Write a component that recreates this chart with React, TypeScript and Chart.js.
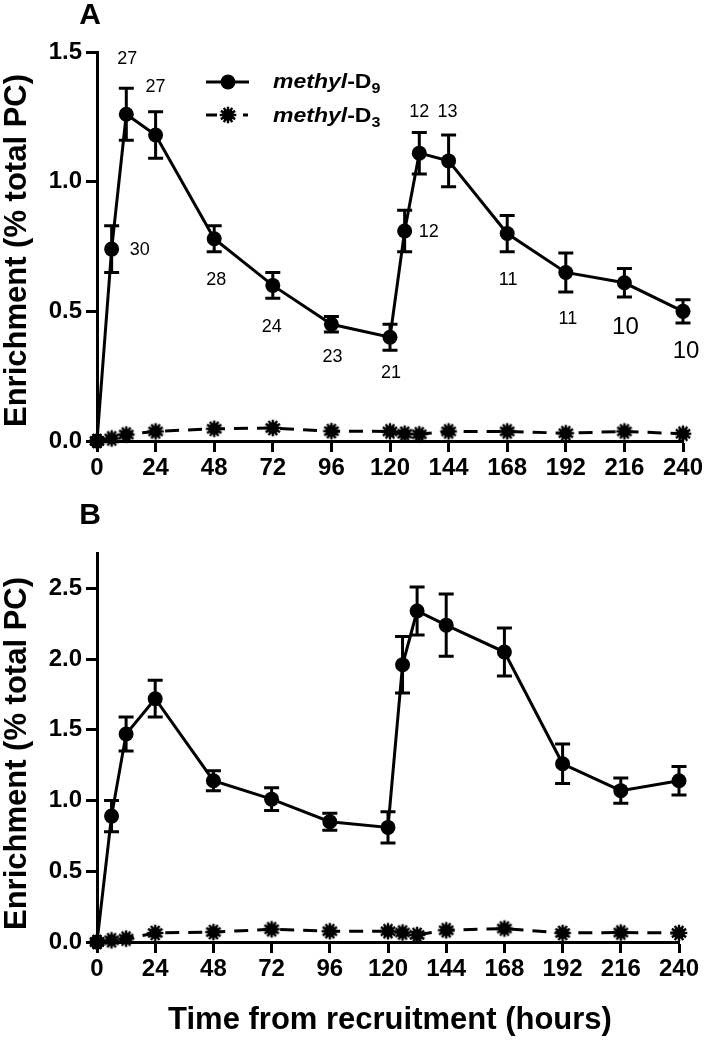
import React, { useEffect, useRef } from 'react';
import { Chart, registerables } from 'chart.js';

Chart.register(...registerables);

// ---------- data ----------
const TIMES = [0, 6, 12, 24, 48, 72, 96, 120, 126, 132, 144, 168, 192, 216, 240];
const X_TICKS = [0, 24, 48, 72, 96, 120, 144, 168, 192, 216, 240];
const A_Y_TICKS = [0, 0.5, 1.0, 1.5];
const B_Y_TICKS = [0, 0.5, 1.0, 1.5, 2.0, 2.5];
const SERIES = ['methyl-D9', 'methyl-D3'];

const A_D9 = [0, 0.74, 1.26, 1.18, 0.78, 0.6, 0.45, 0.4, 0.81, 1.11, 1.08, 0.8, 0.65, 0.61, 0.5];
const A_D9_SEM = [0, 0.09, 0.1, 0.09, 0.05, 0.05, 0.03, 0.05, 0.08, 0.08, 0.1, 0.07, 0.075, 0.055, 0.045];
const A_D3 = [0, 0.01, 0.025, 0.037, 0.047, 0.05, 0.038, 0.037, 0.028, 0.026, 0.037, 0.037, 0.03, 0.037, 0.028];
const A_N = [null, 30, 27, 27, 28, 24, 23, 21, 12, 12, 13, 11, 11, 10, 10];

const B_D9 = [0, 0.89, 1.47, 1.72, 1.14, 1.01, 0.85, 0.81, 1.96, 2.34, 2.24, 2.05, 1.26, 1.07, 1.14];
const B_D9_SEM = [0, 0.11, 0.12, 0.13, 0.07, 0.08, 0.06, 0.11, 0.2, 0.17, 0.22, 0.17, 0.14, 0.09, 0.1];
const B_D3 = [0, 0.012, 0.024, 0.064, 0.07, 0.09, 0.076, 0.076, 0.067, 0.05, 0.083, 0.095, 0.064, 0.067, 0.064];

// ---------- styling ----------
const FONT = '"Liberation Sans", Arial, Helvetica, sans-serif';
const Y_TITLE = 'Enrichment (% total PC)';
const X_TITLE = 'Time from recruitment (hours)';

// label offsets (dx, dy, big) for the n annotations of panel A
const N_OFFSETS: [number, number, boolean][] = [
  [0, 0, false], [28, 1, false], [1, -55, false], [0, -48, false], [2, 41, false],
  [-1, 42, false], [1, 33, false], [1, 36, false], [24, 1, false], [0, -41, false],
  [-1, -49, false], [1, 46, false], [2, 47, false], [1, 45, true], [3, 40, true],
];

function starMarker(): HTMLCanvasElement {
  const c = document.createElement('canvas');
  c.width = 20;
  c.height = 20;
  const g = c.getContext('2d')!;
  g.fillStyle = '#000';
  g.strokeStyle = '#000';
  g.beginPath();
  g.arc(10, 10, 6, 0, Math.PI * 2);
  g.fill();
  g.lineWidth = 2.4;
  for (let k = 0; k < 12; k++) {
    const a = (k * Math.PI) / 6;
    g.beginPath();
    g.moveTo(10, 10);
    g.lineTo(10 + 8.3 * Math.cos(a), 10 + 8.3 * Math.sin(a));
    g.stroke();
  }
  return c;
}

interface PanelSpec {
  letter: string;
  height: number;
  padTop: number;
  padRight: number;
  xHeight: number;
  yMax: number;
  yTicks: number[];
  d9: number[];
  sem: number[];
  d3: number[];
  nLabels?: (number | null)[];
  legend: boolean;
  xTitle: boolean;
  yTitleShift: number;
}

function drawRich(ctx: CanvasRenderingContext2D, x: number, y: number, parts: { text: string; font: string; dy: number }[]) {
  ctx.save();
  ctx.translate(x, y);
  ctx.scale(1.15, 1);
  ctx.textAlign = 'left';
  ctx.textBaseline = 'alphabetic';
  ctx.fillStyle = '#000';
  let cx = 0;
  for (const p of parts) {
    ctx.font = p.font;
    ctx.fillText(p.text, cx, p.dy);
    cx += ctx.measureText(p.text).width;
  }
  ctx.restore();
}

function buildChart(canvas: HTMLCanvasElement, p: PanelSpec) {
  const star = starMarker();
  const decorations = {
    id: 'decorations' + p.letter,
    afterDatasetsDraw(chart: any) {
      const ctx: CanvasRenderingContext2D = chart.ctx;
      const ys = chart.scales.y;
      const meta = chart.getDatasetMeta(0);
      // error bars
      ctx.save();
      ctx.strokeStyle = '#000';
      ctx.lineWidth = 3;
      meta.data.forEach((pt: any, j: number) => {
        const e = p.sem[j];
        if (!e) return;
        const v = p.d9[j];
        const top = ys.getPixelForValue(v + e);
        const bot = ys.getPixelForValue(v - e);
        ctx.beginPath();
        ctx.moveTo(pt.x, top);
        ctx.lineTo(pt.x, bot);
        ctx.moveTo(pt.x - 7.5, top);
        ctx.lineTo(pt.x + 7.5, top);
        ctx.moveTo(pt.x - 7.5, bot);
        ctx.lineTo(pt.x + 7.5, bot);
        ctx.stroke();
      });
      ctx.restore();

      // n annotations
      if (p.nLabels) {
        ctx.save();
        ctx.fillStyle = '#000';
        ctx.textAlign = 'center';
        ctx.textBaseline = 'middle';
        meta.data.forEach((pt: any, j: number) => {
          const n = p.nLabels![j];
          if (n == null) return;
          const [dx, dy, big] = N_OFFSETS[j];
          ctx.font = (big ? '24px ' : '18px ') + FONT;
          ctx.fillText(String(n), pt.x + dx, pt.y + dy);
        });
        ctx.restore();
      }
    },
    afterDraw(chart: any) {
      const ctx: CanvasRenderingContext2D = chart.ctx;
      const area = chart.chartArea;
      ctx.save();
      ctx.fillStyle = '#000';
      // panel letter
      ctx.font = 'bold 30px ' + FONT;
      ctx.textAlign = 'center';
      ctx.textBaseline = 'middle';
      ctx.fillText(p.letter, 90, 16);
      // y title
      ctx.save();
      ctx.translate(17, (area.top + area.bottom) / 2 + p.yTitleShift);
      ctx.rotate(-Math.PI / 2);
      ctx.font = 'bold 31px ' + FONT;
      ctx.textAlign = 'center';
      ctx.textBaseline = 'middle';
      ctx.fillText(Y_TITLE, 0, 0);
      ctx.restore();
      // x title
      if (p.xTitle) {
        ctx.font = 'bold 31px ' + FONT;
        ctx.textAlign = 'center';
        ctx.textBaseline = 'middle';
        ctx.fillText(X_TITLE, 390, 520);
      }
      // legend
      if (p.legend) {
        ctx.strokeStyle = '#000';
        ctx.lineWidth = 3;
        ctx.beginPath();
        ctx.moveTo(206, 82);
        ctx.lineTo(249, 82);
        ctx.stroke();
        ctx.beginPath();
        ctx.arc(228, 82, 7.5, 0, Math.PI * 2);
        ctx.fill();
        ctx.beginPath();
        ctx.moveTo(206, 115);
        ctx.lineTo(217, 115);
        ctx.moveTo(243, 115);
        ctx.lineTo(248, 115);
        ctx.stroke();
        ctx.drawImage(star, 218, 105);
        const sub = (d: string, y: number) =>
          drawRich(ctx, 273, y, [
            { text: 'methyl', font: 'italic bold 20px ' + FONT, dy: 0 },
            { text: '-D', font: 'bold 20px ' + FONT, dy: 0 },
            { text: d, font: 'bold 14px ' + FONT, dy: 5 },
          ]);
        sub('9', 88);
        sub('3', 122);
      }
      ctx.restore();
    },
  };

  return new Chart(canvas, {
    type: 'line',
    data: {
      datasets: [
        {
          label: SERIES[0],
          data: TIMES.map((t, i) => ({ x: t, y: p.d9[i] })),
          borderColor: '#000',
          backgroundColor: '#000',
          borderWidth: 3,
          pointStyle: 'circle',
          pointRadius: 7.5,
          pointBorderWidth: 0,
          tension: 0,
          clip: false,
        } as any,
        {
          label: SERIES[1],
          data: TIMES.map((t, i) => ({ x: t, y: p.d3[i] })),
          borderColor: '#000',
          backgroundColor: '#000',
          borderWidth: 3,
          borderDash: [14, 9],
          pointStyle: star,
          pointRadius: 8,
          tension: 0,
          clip: false,
        } as any,
      ],
    },
    options: {
      animation: false,
      responsive: false,
      events: [],
      layout: { padding: { left: 0, top: p.padTop, right: p.padRight, bottom: 0 } },
      plugins: { legend: { display: false }, tooltip: { enabled: false } },
      scales: {
        x: {
          type: 'linear',
          min: 0,
          max: 240,
          afterBuildTicks: (s: any) => {
            s.ticks = X_TICKS.map((v) => ({ value: v }));
          },
          afterFit: (s: any) => {
            s.height = p.xHeight;
          },
          border: { display: true, color: '#000', width: 3 },
          grid: { drawOnChartArea: false, drawTicks: true, tickLength: 11, tickWidth: 3, tickColor: '#000' } as any,
          ticks: {
            color: '#000',
            font: { family: FONT, size: 24, weight: 'bold' },
            padding: 2,
            autoSkip: false,
            maxRotation: 0,
            callback: (v: any) => String(v),
          },
        },
        y: {
          type: 'linear',
          min: 0,
          max: p.yMax,
          afterBuildTicks: (s: any) => {
            s.ticks = p.yTicks.map((v) => ({ value: v }));
          },
          afterFit: (s: any) => {
            s.width = 97;
          },
          border: { display: true, color: '#000', width: 3 },
          grid: { drawOnChartArea: false, drawTicks: true, tickLength: 11, tickWidth: 3, tickColor: '#000' } as any,
          ticks: {
            color: '#000',
            font: { family: FONT, size: 24, weight: 'bold' },
            padding: 4,
            callback: (v: any) => Number(v).toFixed(1),
          },
        },
      },
    } as any,
    plugins: [decorations],
  });
}

const PANEL_A: PanelSpec = {
  letter: 'A', height: 500, padTop: 52, padRight: 25, xHeight: 59, yMax: 1.5, yTicks: A_Y_TICKS,
  d9: A_D9, sem: A_D9_SEM, d3: A_D3, nLabels: A_N, legend: true, xTitle: false, yTitleShift: 4,
};
const PANEL_B: PanelSpec = {
  letter: 'B', height: 542, padTop: 53, padRight: 29, xHeight: 100, yMax: 2.75, yTicks: B_Y_TICKS,
  d9: B_D9, sem: B_D9_SEM, d3: B_D3, legend: false, xTitle: true, yTitleShift: 6,
};

function Panel({ spec, top }: { spec: PanelSpec; top: number }) {
  const ref = useRef<HTMLCanvasElement>(null);
  useEffect(() => {
    if (!ref.current) return;
    const chart = buildChart(ref.current, spec);
    return () => chart.destroy();
  }, [spec]);
  return (
    <canvas
      ref={ref}
      width={708}
      height={spec.height}
      style={{ position: 'absolute', left: 0, top, width: 708, height: spec.height, display: 'block' }}
    />
  );
}

export default function App() {
  return (
    <div style={{ position: 'absolute', left: 0, top: 0, width: 708, height: 1042, background: '#fff', overflow: 'hidden' }}>
      <Panel spec={PANEL_A} top={0} />
      <Panel spec={PANEL_B} top={500} />
    </div>
  );
}
